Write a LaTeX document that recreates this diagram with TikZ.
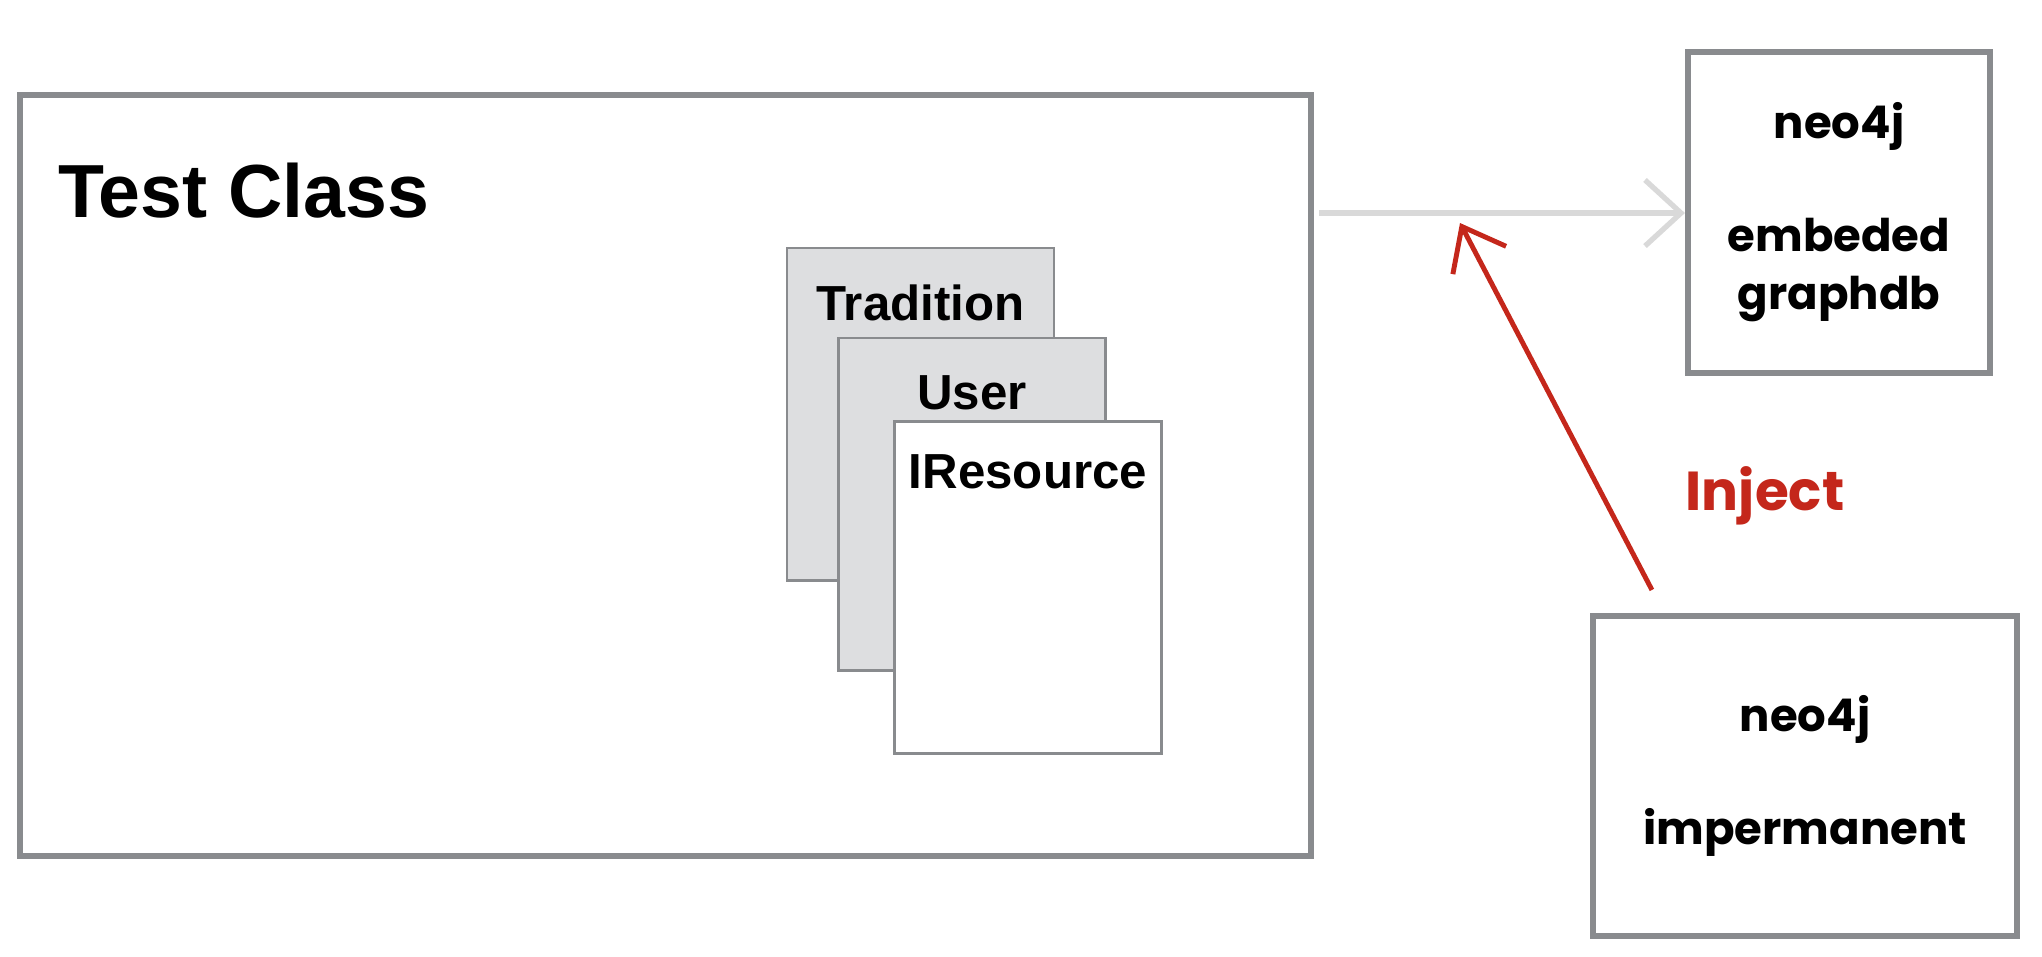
\documentclass[tikz,border=0pt]{standalone}
\usepackage{fontspec}
\setmainfont{Liberation Sans}
\newfontfamily\roundfont{Poppins}
\usetikzlibrary{arrows.meta,positioning}
\definecolor{sketchgray}{HTML}{898B8E}
\definecolor{cardfill}{HTML}{DDDEE0}
\definecolor{flowgray}{HTML}{D9D9D9}
\definecolor{injectred}{HTML}{C4271B}
\begin{document}
\begin{tikzpicture}[x=0.01cm, y=-0.01cm,
    bigbox/.style={draw=sketchgray, line width=1.7pt, fill=white, inner sep=0pt},
    card/.style={draw=sketchgray, line width=0.8pt, fill=cardfill, minimum width=2.67cm, minimum height=3.32cm, inner sep=0pt},
    cardtext/.style={font=\bfseries\fontsize{14}{17}\selectfont},
    dbtext/.style={font=\roundfont\bfseries\fontsize{12.8}{16.5}\selectfont, align=center}]
\useasboundingbox (0,0) rectangle (2042,956);
\node[bigbox, minimum width=12.91cm, minimum height=7.61cm] (testclass) at (665.5,475.5) {};
\node[anchor=west, font=\bfseries\fontsize{21.4}{25}\selectfont] (title) at (46,191) {Test Class};
\node[card, label={[cardtext, anchor=center, yshift=-0.56cm]north:Tradition}] (tradition) at (920.5,414) {};
\node[card, label={[cardtext, anchor=center, yshift=-0.56cm]north:User}] (user) at (972,504) {};
\node[card, fill=white, label={[cardtext, anchor=center, yshift=-0.52cm]north:IResource}] (iresource) at (1028,587.5) {};
\node[bigbox, dbtext, minimum width=3.02cm, minimum height=3.21cm] (embedded) at (1839,212.5) {neo4j\\[0.55cm]embeded\\graphdb};
\node[bigbox, dbtext, minimum width=4.24cm, minimum height=3.2cm] (imperm) at (1805,776) {neo4j\\[0.55cm]impermanent};
\coordinate (src) at (1319,213);
\coordinate (hit) at (1460,223);
\draw[flowgray, line width=1.5pt, -{Straight Barb[length=0.36cm, width=0.66cm, line width=1.5pt]}] (src) -- (src -| embedded.west);
\draw[injectred, line width=1.4pt, -{Straight Barb[length=0.38cm, width=0.6cm, line width=1.4pt]}] ([xshift=0.62cm, yshift=0.23cm]imperm.north west) -- (hit);
\node[injectred, font=\roundfont\bfseries\fontsize{15.6}{19}\selectfont] (inject) at (1765,496) {Inject};
\end{tikzpicture}
\end{document}
